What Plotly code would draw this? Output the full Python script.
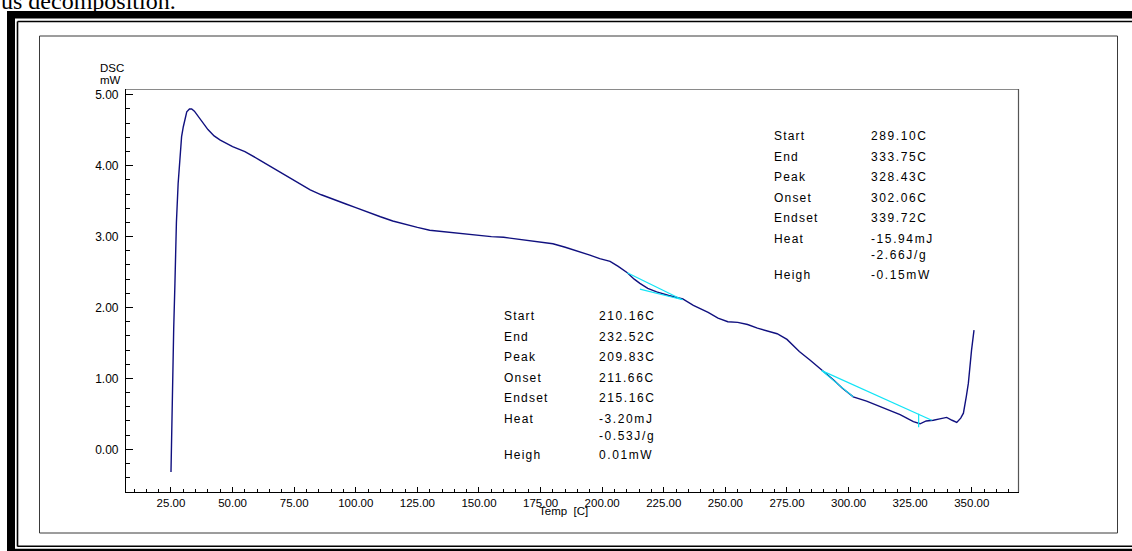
import plotly.graph_objects as go

# ---------------- data ----------------
temp_c = [25.0, 25.3, 25.7, 26.1, 26.6, 27.2, 27.9, 28.6, 29.3, 30.0, 31.4, 32.5, 33.4, 34.5,
          36.0, 38.0, 40.0, 42.5, 45.0, 50.0, 55.0, 61.0, 66.0, 71.0, 76.0, 81.5, 86.0, 91.0,
          96.0, 100.0, 105.0, 110.0, 115.0, 120.0, 125.0, 130.0, 135.0, 140.0, 145.0, 150.0,
          155.0, 160.0, 165.0, 170.0, 175.0, 180.0, 185.0, 190.0, 195.0, 199.0, 203.2, 206.5,
          210.2, 213.0, 215.3, 218.5, 222.1, 227.0, 232.7, 237.0, 243.0, 247.0, 251.0, 255.0,
          259.0, 263.0, 267.0, 271.0, 275.0, 280.0, 284.3, 289.1, 293.8, 297.5, 301.9, 307.3,
          314.1, 320.9, 326.3, 329.0, 331.5, 334.4, 337.0, 339.8, 342.0, 343.9, 345.5, 346.6,
          347.8, 348.6, 349.9, 350.9]
dsc_mw = [-0.32, 0.30, 0.93, 1.70, 2.34, 3.20, 3.75, 4.15, 4.41, 4.55, 4.76, 4.80, 4.80, 4.77,
          4.70, 4.60, 4.51, 4.42, 4.36, 4.27, 4.20, 4.08, 3.98, 3.87, 3.77, 3.66, 3.59, 3.52,
          3.46, 3.41, 3.34, 3.28, 3.22, 3.17, 3.13, 3.09, 3.07, 3.05, 3.03, 3.01,
          3.00, 2.99, 2.97, 2.95, 2.93, 2.90, 2.85, 2.80, 2.74, 2.69, 2.65, 2.58,
          2.49, 2.40, 2.34, 2.27, 2.22, 2.17, 2.12, 2.03, 1.93, 1.85, 1.80, 1.79,
          1.76, 1.71, 1.67, 1.63, 1.55, 1.38, 1.26, 1.12, 0.98, 0.86, 0.74, 0.68,
          0.58, 0.49, 0.39, 0.36, 0.40, 0.41, 0.43, 0.45, 0.41, 0.38, 0.44, 0.51,
          0.75, 0.93, 1.40, 1.68]

# analysis (cyan) construction lines
base1_t = [210.16, 232.52]
base1_y = [2.49, 2.11]
tan1_t = [215.3, 232.7]
tan1_y = [2.26, 2.11]
base2_t = [289.10, 333.75]
base2_y = [1.11, 0.41]
tan2_t = [289.10, 301.9]
tan2_y = [1.11, 0.74]
peak2_t = [328.43, 328.43]
peak2_y = [0.50, 0.31]

# result tables
labels = ["Start", "End", "Peak", "Onset", "Endset", "Heat", "", "Heigh"]
vals_hi = ["289.10C", "333.75C", "328.43C", "302.06C", "339.72C", "-15.94mJ", "-2.66J/g", "-0.15mW"]
vals_lo = ["210.16C", "232.52C", "209.83C", "211.66C", "215.16C", "-3.20mJ", "-0.53J/g", "0.01mW"]

x_ticks = [25, 50, 75, 100, 125, 150, 175, 200, 225, 250, 275, 300, 325, 350]
y_ticks = [0, 1, 2, 3, 4, 5]

# ---------------- layout helpers (pixel -> paper) ----------------
W, H = 1132, 551
L, R, T, B = 126, 1019, 89, 492


def px(x):
    return (x - L) / (R - L)


def py(y):
    return (B - y) / (B - T)


FONT = "Liberation Sans, Arial, sans-serif"
NAVY = "#10107f"
CYAN = "#12e4f6"

fig = go.Figure()
fig.add_trace(go.Scatter(x=temp_c, y=dsc_mw, mode="lines",
                         line=dict(color=NAVY, width=1.4), hoverinfo="skip", showlegend=False))
for tx, ty in [(base1_t, base1_y), (tan1_t, tan1_y), (base2_t, base2_y), (tan2_t, tan2_y),
               (peak2_t, peak2_y)]:
    fig.add_trace(go.Scatter(x=tx, y=ty, mode="lines", line=dict(color=CYAN, width=1.2),
                             hoverinfo="skip", showlegend=False))

shapes = []


def rect(x0, y0, x1, y1, fill=None, line=None, lw=0):
    shapes.append(dict(type="rect", xref="paper", yref="paper",
                       x0=px(x0), x1=px(x1), y0=py(y1), y1=py(y0),
                       fillcolor=fill if fill else "rgba(0,0,0,0)",
                       line=dict(color=line if line else "rgba(0,0,0,0)", width=lw),
                       layer="above"))


def seg(x0, y0, x1, y1, color="black", lw=1):
    shapes.append(dict(type="line", xref="paper", yref="paper",
                       x0=px(x0), x1=px(x1), y0=py(y0), y1=py(y1),
                       line=dict(color=color, width=lw), layer="above"))


# document frame
rect(7, 11, 15, 552, fill="black")
rect(7, 11, 1133, 18.5, fill="black")
rect(7, 548.8, 1133, 552, fill="black")
seg(17.5, 21.5, 17.5, 546.5, lw=1.6)
seg(17.5, 21.5, 1133, 21.5, lw=1.6)
seg(17.5, 546.2, 1133, 546.2, lw=1.6)
# inner rectangle
rect(39.5, 36, 1117.5, 533, line="#3a3a3a", lw=1)
# plot frame (top/right grey)
seg(L, T + 0.5, R, T + 0.5, color="#8a8a8a", lw=1.2)
seg(R - 0.5, T, R - 0.5, B, color="#555555", lw=1.2)

annotations = []


def text(x, y, s, size=12, xanchor="left", family=FONT, yanchor="middle", spacing=None):
    if spacing:
        s = f"<span style='letter-spacing:{spacing}px'>{s}</span>"
    annotations.append(dict(xref="paper", yref="paper", x=px(x), y=py(y), text=s,
                            showarrow=False, xanchor=xanchor, yanchor=yanchor,
                            font=dict(family=family, size=size, color="black")))


rows_hi = [136, 156.5, 177, 197.5, 218, 238.5, 255.5, 275]
rows_lo = [316, 336.7, 357.3, 377.7, 398, 418.5, 436, 455]
for lab, v, y in zip(labels, vals_hi, rows_hi):
    if lab:
        text(772, y, lab, spacing=1.2)
    text(869, y, v, spacing=1.6)
for lab, v, y in zip(labels, vals_lo, rows_lo):
    if lab:
        text(502, y, lab, spacing=1.2)
    text(597, y, v, spacing=1.6)

text(112, 67.5, "DSC", size=11.5, xanchor="center")
text(110, 80.5, "mW", size=11.5, xanchor="center")
text(537, 511, "Temp  [C]", size=11.5)
text(-1, 0.5, "us decomposition.", size=24, family="Liberation Serif, Times New Roman, serif")

fig.update_layout(
    width=W, height=H,
    margin=dict(l=L, r=W - R, t=T, b=H - B, pad=0),
    paper_bgcolor="white", plot_bgcolor="white",
    shapes=shapes, annotations=annotations,
    font=dict(family=FONT, color="black"),
    xaxis=dict(range=[6.74, 369.16], tickmode="array", tickvals=x_ticks,
               ticktext=[f"{v:.2f}" for v in x_ticks],
               ticks="inside", ticklen=5, tickcolor="black", tickwidth=1,
               showline=True, linecolor="black", linewidth=1.2,
               showgrid=False, zeroline=False,
               tickfont=dict(family=FONT, size=11.5, color="black"),
               minor=dict(dtick=5, tick0=0, ticks="inside", ticklen=3, tickcolor="black",
                          showgrid=False)),
    yaxis=dict(range=[-0.602, 5.082], tickmode="array", tickvals=y_ticks,
               ticktext=[f"{v:.2f}" for v in y_ticks],
               ticks="inside", ticklen=7, tickcolor="black", tickwidth=1,
               showline=True, linecolor="black", linewidth=1.2,
               showgrid=False, zeroline=False, ticklabelstandoff=4,
               tickfont=dict(family=FONT, size=12, color="black"),
               minor=dict(dtick=0.2, tick0=0, ticks="inside", ticklen=4, tickcolor="black",
                          showgrid=False)),
)

fig.write_html("out.html", config={"displayModeBar": False},
               post_script="document.body.style.margin='0';document.body.style.overflow='hidden';")
